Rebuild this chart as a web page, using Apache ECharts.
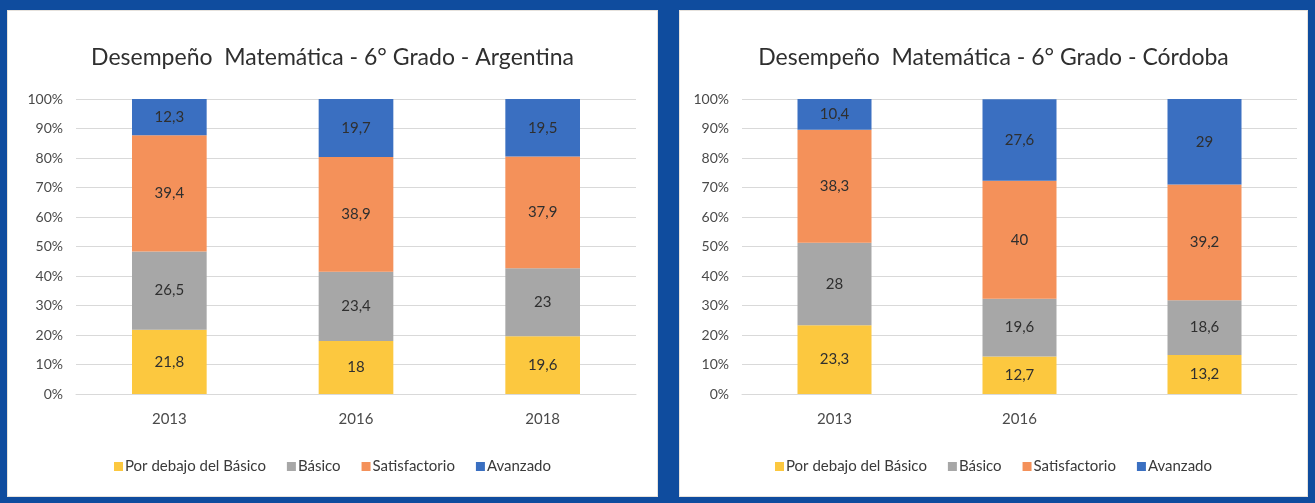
<!DOCTYPE html>
<html>
<head>
<meta charset="utf-8">
<script src="https://cdn.jsdelivr.net/npm/echarts@6/dist/echarts.min.js"></script>
<style>
    html, body { margin: 0; padding: 0; }
    body { width: 1315px; height: 503px; background: #0f4c9e; position: relative; overflow: hidden; }
    .panel { position: absolute; background: #ffffff; box-sizing: border-box; border: 1px solid #e6e2dd; }
    #chartArg { left: 7px; top: 10px; width: 651px; height: 487px; }
    #chartCba { left: 679px; top: 10px; width: 629px; height: 487px; }
</style>
</head>
<body>
<div id="chartArg" class="panel"></div>
<div id="chartCba" class="panel"></div>
<script>
// niveles de desempeño
var levels = ['Por debajo del Básico', 'Básico', 'Satisfactorio', 'Avanzado'];
var levelColors = ['#fcc83f', '#a7a7a7', '#f4915a', '#3a6fc1'];

// Argentina
var argYears = ['2013', '2016', '2018'];
var argDebajo = [21.8, 18, 19.6];
var argBasico = [26.5, 23.4, 23];
var argSatisf = [39.4, 38.9, 37.9];
var argAvanz = [12.3, 19.7, 19.5];

// Córdoba (la tercera etiqueta no aparece en el gráfico original)
var cbaYears = ['2013', '2016', ''];
var cbaDebajo = [23.3, 12.7, 13.2];
var cbaBasico = [28, 19.6, 18.6];
var cbaSatisf = [38.3, 40, 39.2];
var cbaAvanz = [10.4, 27.6, 29];

var yTicks = [0, 10, 20, 30, 40, 50, 60, 70, 80, 90, 100];

function buildOption(title, years, seriesData, gridLeft, gridRight) {
    var series = [];
    $each(seriesData, function (i, vals) {
        series.push({
            name: levels[i],
            type: 'bar',
            stack: 'total',
            barWidth: '40%',
            data: vals,
            itemStyle: { color: levelColors[i] },
            label: {
                show: true,
                position: 'inside',
                fontFamily: 'Lato',
                fontSize: 15,
                color: '#2f2f2f',
                formatter: function (p) {
                    return String(p.value).replace('.', ',');
                }
            }
        });
    });
    return {
        animation: false,
        title: {
            text: title,
            left: 'center',
            top: 30,
            textStyle: { fontFamily: 'Lato', fontSize: 23, fontWeight: 'normal', color: '#2f2f2f' }
        },
        legend: {
            data: levels,
            bottom: 17,
            left: 'center',
            icon: 'rect',
            itemWidth: 9,
            itemHeight: 9,
            itemGap: 21,
            textStyle: { fontFamily: 'Lato', fontSize: 15, color: '#3a3a3a', padding: [0, 0, 0, -3] }
        },
        grid: { left: gridLeft, right: gridRight, top: 88, bottom: 102 },
        xAxis: {
            type: 'category',
            data: years,
            axisLine: { lineStyle: { color: '#d9d9d9' } },
            axisTick: { show: false },
            axisLabel: { fontFamily: 'Lato', fontSize: 15, color: '#4a4a4a', margin: 18 }
        },
        yAxis: {
            type: 'value',
            min: yTicks[0],
            max: yTicks[yTicks.length - 1],
            interval: 10,
            axisLine: { show: false },
            axisTick: { show: false },
            splitLine: { lineStyle: { color: '#d9d9d9', width: 1 } },
            axisLabel: { fontFamily: 'Lato', fontSize: 14, color: '#4a4a4a', margin: 13, formatter: '{value}%' }
        },
        series: series
    };
}

function $each(arr, fn) {
    for (var i = 0; i < arr.length; i++) fn(i, arr[i]);
}

var argChart = echarts.init(document.getElementById('chartArg'));
argChart.setOption(buildOption('Desempeño  Matemática - 6° Grado - Argentina', argYears,
    [argDebajo, argBasico, argSatisf, argAvanz], 68, 21));

var cbaChart = echarts.init(document.getElementById('chartCba'));
cbaChart.setOption(buildOption('Desempeño  Matemática - 6° Grado - Córdoba', cbaYears,
    [cbaDebajo, cbaBasico, cbaSatisf, cbaAvanz], 62, 10));
</script>
</body>
</html>
